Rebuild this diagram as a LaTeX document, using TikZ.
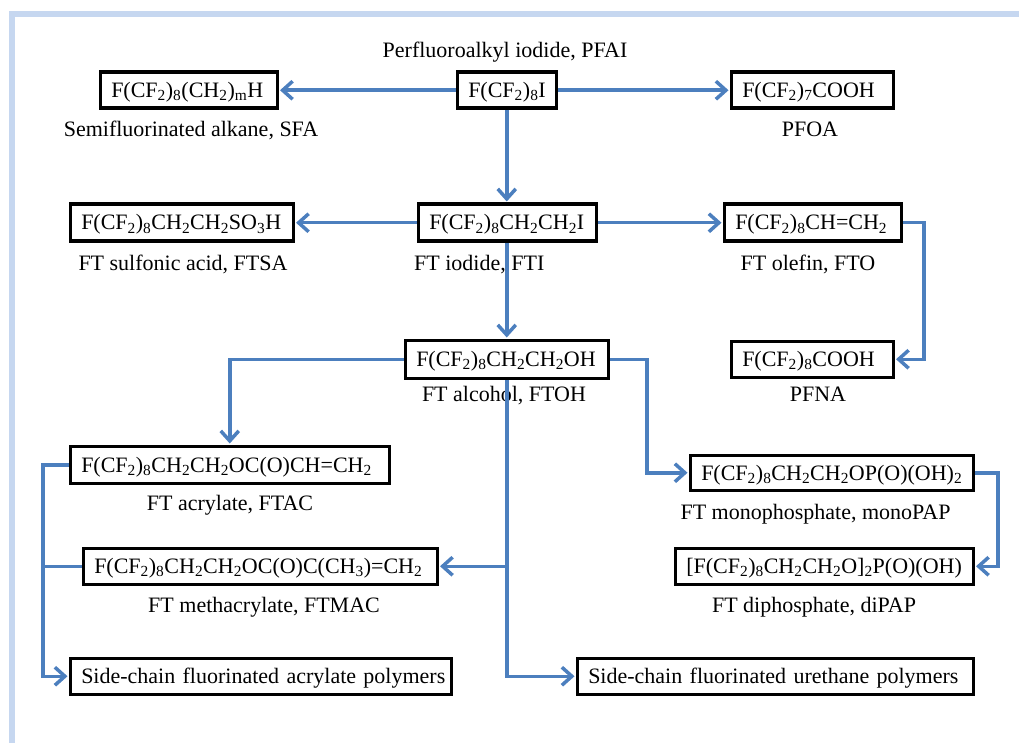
\documentclass[tikz,border=0pt]{standalone}
\usepackage{fontspec}
\setmainfont{Liberation Serif}
\usetikzlibrary{arrows.meta}
\definecolor{flowblue}{RGB}{76,127,190}
\definecolor{framebl}{RGB}{198,215,240}
\newcommand\sbs[1]{\textsubscript{#1}}
\begin{document}
\begin{tikzpicture}[x=1pt,y=-1pt,
  font=\fontsize{22}{26}\selectfont,
  box/.style={draw=black, line width=3.5pt, fill=white, anchor=north west,
    inner xsep=11pt, inner ysep=0pt, minimum height=36pt, align=left,
    text height=15.5pt, text depth=1pt},
  lbl/.style={inner sep=0pt, anchor=base},
  flow/.style={draw=flowblue, line width=3.5pt},
  arr/.style={flow, -{Straight Barb[length=10pt,width=18pt]}, shorten >=1pt}]
\useasboundingbox (0,0) rectangle (1019,743);
\fill[framebl] (9,11) rectangle (1019,17);
\fill[framebl] (9,11) rectangle (15,743);

% boxes
\node[box, text width=77pt] (pfai) at (455.5,70.5) {F(CF\sbs{2})\sbs{8}I};
\node[box, text width=155pt] (sfa) at (98.5,70.5) {F(CF\sbs{2})\sbs{8}(CH\sbs{2})\sbs{m}H};
\node[box, text width=140pt] (pfoa) at (729.5,70.5) {F(CF\sbs{2})\sbs{7}COOH};
\node[box, text width=201pt, minimum height=37pt] (ftsa) at (68.5,202.5) {F(CF\sbs{2})\sbs{8}CH\sbs{2}CH\sbs{2}SO\sbs{3}H};
\node[box, text width=156pt, minimum height=37pt] (fti) at (416.5,202.5) {F(CF\sbs{2})\sbs{8}CH\sbs{2}CH\sbs{2}I};
\node[box, text width=155pt, minimum height=37pt] (fto) at (722.5,202.5) {F(CF\sbs{2})\sbs{8}CH=CH\sbs{2}};
\node[box, text width=181pt, minimum height=38pt] (ftoh) at (403.5,338.5) {F(CF\sbs{2})\sbs{8}CH\sbs{2}CH\sbs{2}OH};
\node[box, text width=140pt] (pfna) at (729.5,339.5) {F(CF\sbs{2})\sbs{8}COOH};
\node[box, text width=297pt, minimum height=37pt] (ftac) at (68.5,444.5) {F(CF\sbs{2})\sbs{8}CH\sbs{2}CH\sbs{2}OC(O)CH=CH\sbs{2}};
\node[box, text width=261pt, minimum height=35pt] (mono) at (688.5,453.5) {F(CF\sbs{2})\sbs{8}CH\sbs{2}CH\sbs{2}OP(O)(OH)\sbs{2}};
\node[box, text width=332pt] (ftmac) at (81.5,546.5) {F(CF\sbs{2})\sbs{8}CH\sbs{2}CH\sbs{2}OC(O)C(CH\sbs{3})=CH\sbs{2}};
\node[box, text width=276pt] (dipap) at (673.5,546.5) {[F(CF\sbs{2})\sbs{8}CH\sbs{2}CH\sbs{2}O]\sbs{2}P(O)(OH)};
\node[box, text width=359pt] (acr) at (68.5,656.5) {\mbox{Side-chain fluorinated acrylate polymers}};
\node[box, text width=374pt] (ure) at (575.5,656.5) {\mbox{Side-chain fluorinated urethane polymers}};

% labels
\node[lbl] (lpfai) at (505,57.5) {Perfluoroalkyl iodide, PFAI};
\node[lbl] (lsfa) at (191,136.5) {Semifluorinated alkane, SFA};
\node[lbl] (lpfoa) at (810,136.5) {PFOA};
\node[lbl] (lftsa) at (183,270.5) {FT sulfonic acid, FTSA};
\node[lbl, anchor=base west] (lfti) at (414,270.5) {FT iodide, FTI};
\node[lbl] (lfto) at (808,270.5) {FT olefin, FTO};
\node[lbl] (lftoh) at (504,401) {FT alcohol, FTOH};
\node[lbl] (lpfna) at (818,401) {PFNA};
\node[lbl] (lftac) at (230,510.5) {FT acrylate, FTAC};
\node[lbl] (lmono) at (815.5,519.5) {FT monophosphate, monoPAP};
\node[lbl] (lftmac) at (264,612.5) {FT methacrylate, FTMAC};
\node[lbl] (ldipap) at (814,612.5) {FT diphosphate, diPAP};

% bus coordinates
\coordinate (busL) at (43,0);
\coordinate (busA) at (924,0);
\coordinate (busB) at (647,0);
\coordinate (busC) at (998,0);

% connectors
\draw[arr] (pfai.west) -- (sfa.east);
\draw[arr] (pfai.east) -- (pfoa.west);
\draw[arr] (pfai.south) -- (pfai.south |- fti.north);
\draw[arr] (fti.west) -- (ftsa.east);
\draw[arr] (fti.east) -- (fto.west);
\draw[arr] (ftoh.north |- fti.south) -- (ftoh.north);
\draw[arr] (fto.east) -- (busA |- fto.east) |- (pfna.east);
\draw[arr] (ftoh.west) -| (ftac.north);
\draw[arr] (ftoh.east) -- (busB |- ftoh.east) |- (mono.west);
\draw[arr] (mono.east) -- (busC |- mono.east) |- (dipap.east);
\draw[arr] (ftoh.south) |- (ure.west);
\draw[arr] (ftoh.south |- ftmac.east) -- (ftmac.east);
\draw[arr] (ftac.west) -- (busL |- ftac.west) |- (acr.west);
\draw[flow] (ftmac.west) -- (busL |- ftmac.west);
\end{tikzpicture}
\end{document}
